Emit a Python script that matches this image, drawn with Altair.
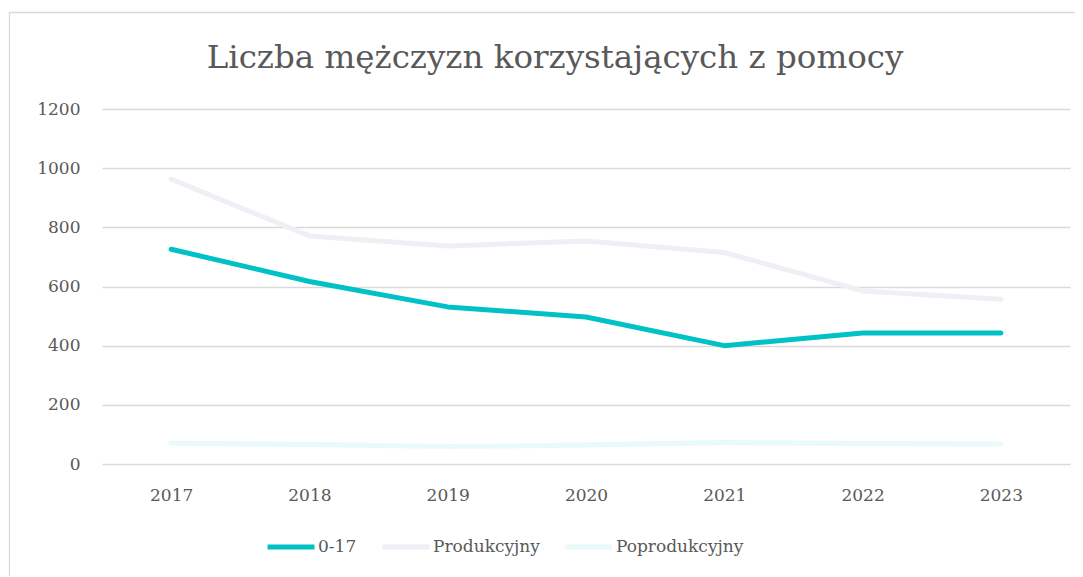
import altair as alt
import pandas as pd

years = ["2017", "2018", "2019", "2020", "2021", "2022", "2023"]
series_names = ["0-17", "Produkcyjny", "Poprodukcyjny"]
v_0_17 = [726, 617, 531, 497, 400, 443, 443]
v_prod = [963, 771, 737, 754, 715, 585, 557]
v_poprod = [70, 66, 59, 64, 73, 69, 68]
colors = ["#00C1C6", "#EDF0F4", "#EAFAFA"]
title_text = "Liczba mężczyzn korzystających z pomocy"

rows = []
for name, vals in zip(series_names, [v_0_17, v_prod, v_poprod]):
    for y, v in zip(years, vals):
        rows.append({"Rok": y, "Grupa": name, "Wartość": v})
df = pd.DataFrame(rows)

FONT = "DejaVu Serif"
TXT = "#595959"

lines = alt.Chart(df).mark_line(strokeWidth=5, strokeCap="round", strokeJoin="round").encode(
    x=alt.X("Rok:O", scale=alt.Scale(type="point", padding=0.5),
            axis=alt.Axis(title=None, labelAngle=0, ticks=False, domain=False,
                          labelPadding=23, labelFontSize=17, labelColor=TXT, labelFont=FONT)),
    y=alt.Y("Wartość:Q", scale=alt.Scale(domain=[0, 1200]),
            axis=alt.Axis(title=None, values=[0, 200, 400, 600, 800, 1000, 1200], ticks=False,
                          format="d", domain=False, labelPadding=22, labelFontSize=17,
                          labelColor=TXT, labelFont=FONT, gridColor="#D9D9D9", gridWidth=1.3)),
    color=alt.Color("Grupa:N", sort=series_names,
                    scale=alt.Scale(domain=series_names, range=colors),
                    legend=alt.Legend(title=None, orient="none", direction="horizontal",
                                      legendX=163, legendY=412, symbolType="stroke",
                                      symbolStrokeWidth=5, symbolSize=2200, labelFontSize=17,
                                      labelColor=TXT, labelFont=FONT, labelOffset=1,
                                      columnPadding=15)),
    order=alt.Order("ord:Q"),
).transform_calculate(
    ord="datum.Grupa == '0-17' ? 3 : (datum.Grupa == 'Produkcyjny' ? 2 : 1)"
)

one = pd.DataFrame({"b": [0]})
border = alt.Chart(one).mark_rect(
    fill=None, stroke="#D9D9D9", strokeWidth=1.3
).encode(x=alt.value(-92.5), x2=alt.value(1100), y=alt.value(-96.5), y2=alt.value(600))

title = alt.Chart(one).mark_text(
    font=FONT, fontSize=32.5, color=TXT, align="center", baseline="alphabetic"
).encode(x=alt.value(453), y=alt.value(-41), text=alt.value(title_text))

chart = alt.layer(border, lines, title).properties(
    width=968, height=355,
    autosize=alt.AutoSizeParams(type="none"),
    padding={"left": 94, "top": 101, "right": 5, "bottom": 112},
).configure_view(stroke=None)

chart.save("out.html", embed_options={"renderer": "svg", "actions": False})
